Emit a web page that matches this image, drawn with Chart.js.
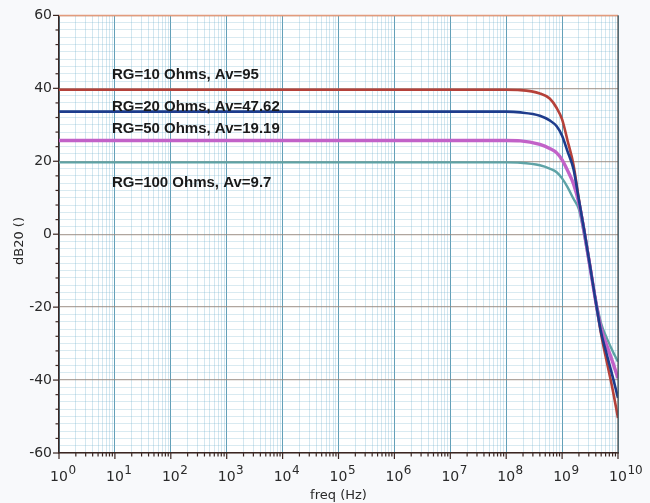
<!DOCTYPE html>
<html>
<head>
<meta charset="utf-8">
<script src="https://cdn.jsdelivr.net/npm/chart.js@4.4.1/dist/chart.umd.min.js"></script>
<style>
  html, body { margin: 0; padding: 0; background: #f8f9fb; }
  #wrap { width: 650px; height: 503px; }
</style>
</head>
<body>
<div id="wrap"><canvas id="myChart"></canvas></div>
<script>
// frequency points (Hz) and gain (dB)
var freqs = [1, 10, 100, 1e3, 1e4, 1e5, 1e6, 1e7, 1e8, 1.8e8, 4e8, 6e8, 8e8, 1e9, 1.25e9, 1.6e9, 2e9, 2.5e9, 3.2e9, 4e9, 5e9, 6.3e9, 8e9, 1e10];

var rg10  = [39.6, 39.6, 39.6, 39.6, 39.6, 39.6, 39.6, 39.6, 39.6, 39.5, 38.6, 37.2, 34.6, 31.5, 25.7, 19, 9.5, 1, -9, -18.5, -27.5, -35, -42.5, -50.4];
var rg20  = [33.6, 33.6, 33.6, 33.6, 33.6, 33.6, 33.6, 33.6, 33.6, 33.4, 32.5, 31.2, 29.6, 27, 22.7, 17.8, 9.3, 0.8, -9.2, -18.5, -27, -33, -39, -44.9];
var rg50  = [25.7, 25.7, 25.7, 25.7, 25.7, 25.7, 25.7, 25.7, 25.7, 25.6, 24.6, 23.5, 22.3, 20.4, 17.5, 13.8, 8.5, 0.4, -9.5, -18.5, -26, -30.5, -35, -39.5];
var rg100 = [19.7, 19.7, 19.7, 19.7, 19.7, 19.7, 19.7, 19.7, 19.7, 19.6, 18.9, 18, 17, 15.3, 12.9, 9.7, 6.8, -0.5, -10, -18, -24.5, -28.5, -32, -35];

var curveLabels = ['RG=10 Ohms, Av=95', 'RG=20 Ohms, Av=47.62', 'RG=50 Ohms, Av=19.19', 'RG=100 Ohms, Av=9.7'];
var yTicks = [-60, -40, -20, 0, 20, 40, 60];
var decades = [0, 1, 2, 3, 4, 5, 6, 7, 8, 9, 10];

let pts = (vals) => freqs.map((f, i) => ({ x: f, y: vals[i] }));

Chart.defaults.font.family = "'DejaVu Sans', sans-serif";

var isMajor = (v) => Math.abs(Math.log10(v) - Math.round(Math.log10(v))) < 1e-9;

var decor = {
  id: 'decor',
  beforeDraw(chart) {
    var a = chart.chartArea, c = chart.ctx;
    c.save();
    c.fillStyle = '#ffffff';
    c.fillRect(a.left, a.top, a.right - a.left, a.bottom - a.top);
    c.restore();
  },
  afterDatasetsDraw(chart) {
    var c = chart.ctx, xs = chart.scales.x, ys = chart.scales.y;
    // curve annotations
    var at = [43.6, 34.8, 29, 14.2];
    c.save();
    c.font = "bold 15px 'Liberation Sans', sans-serif";
    c.fillStyle = '#1a1a1a';
    c.textBaseline = 'middle';
    curveLabels.forEach((t, i) => {
      c.fillText(t, xs.getPixelForValue(10) - 3, ys.getPixelForValue(at[i]));
    });
    c.restore();
  },
  afterDraw(chart) {
    var c = chart.ctx, a = chart.chartArea, xs = chart.scales.x, ys = chart.scales.y;
    c.save();
    // top + right frame
    c.strokeStyle = '#e39b7c';
    c.lineWidth = 1.5;
    c.beginPath(); c.moveTo(a.left, a.top); c.lineTo(a.right, a.top); c.stroke();
    c.strokeStyle = '#4a4a4a';
    c.lineWidth = 1.2;
    c.beginPath(); c.moveTo(a.right, a.top); c.lineTo(a.right, a.bottom); c.stroke();

    // tick marks
    c.strokeStyle = '#3a2622';
    c.lineWidth = 1.2;
    xs.ticks.forEach((t) => {
      var px = xs.getPixelForValue(t.value);
      var len = isMajor(t.value) ? 6 : 3.5;
      c.beginPath(); c.moveTo(px, a.bottom); c.lineTo(px, a.bottom + len); c.stroke();
    });
    ys.ticks.forEach((t) => {
      if (t.value % 4 !== 0) return;
      var py = ys.getPixelForValue(t.value);
      var len = t.value % 20 === 0 ? 6 : 3.5;
      c.beginPath(); c.moveTo(a.left, py); c.lineTo(a.left - len, py); c.stroke();
    });

    // x tick labels with exponents
    c.fillStyle = '#2a2a2a';
    c.textBaseline = 'alphabetic';
    decades.forEach((n) => {
      var px = xs.getPixelForValue(Math.pow(10, n));
      c.font = "14px 'DejaVu Sans', sans-serif";
      var w = c.measureText('10').width;
      c.textAlign = 'left';
      c.fillText('10', px - w / 2, a.bottom + 28);
      c.font = "12px 'DejaVu Sans', sans-serif";
      c.fillText(String(n), px + w / 2 + 0.5, a.bottom + 21);
    });

    // axis titles
    c.font = "13px 'DejaVu Sans', sans-serif";
    c.textAlign = 'center';
    c.textBaseline = 'middle';
    c.fillText('freq (Hz)', (a.left + a.right) / 2, a.bottom + 43);
    c.translate(20, 241);
    c.rotate(-Math.PI / 2);
    c.fillText('dB20 ()', 0, 0);
    c.restore();
  }
};

var ctx = document.getElementById('myChart');
var myChart = new Chart(ctx, {
  type: 'line',
  data: {
    datasets: [
      { label: curveLabels[0], data: pts(rg10), borderColor: '#b5413a', borderWidth: 2.6, order: 3 },
      { label: curveLabels[1], data: pts(rg20), borderColor: '#1d3c8c', borderWidth: 2.6, order: 1 },
      { label: curveLabels[2], data: pts(rg50), borderColor: '#c262c8', borderWidth: 3.4, order: 2 },
      { label: curveLabels[3], data: pts(rg100), borderColor: '#5ea3a6', borderWidth: 2.4, order: 4 }
    ]
  },
  options: {
    responsive: true,
    maintainAspectRatio: false,
    animation: false,
    layout: { padding: { top: 15, right: 32, left: 0, bottom: 0 } },
    elements: {
      point: { radius: 0 },
      line: { fill: false, cubicInterpolationMode: 'monotone' }
    },
    plugins: { legend: { display: false }, tooltip: { enabled: false } },
    scales: {
      x: {
        type: 'logarithmic',
        min: 1,
        max: 1e10,
        afterBuildTicks: (scale) => {
          var t = [];
          for (var n = 0; n < 10; n++) {
            for (var m = 1; m < 10; m++) t.push({ value: m * Math.pow(10, n) });
          }
          t.push({ value: 1e10 });
          scale.ticks = t;
        },
        afterFit: (scale) => { scale.height = 50; },
        ticks: { autoSkip: false, maxRotation: 0, callback: () => '' },
        grid: {
          drawTicks: false,
          color: (c) => isMajor(c.tick.value) ? 'rgba(60,135,165,0.8)' : 'rgba(110,175,205,0.3)',
          lineWidth: 1
        },
        border: { color: '#3a2622', width: 1.5 }
      },
      y: {
        min: -60,
        max: 60,
        afterFit: (scale) => { scale.width = 59; },
        ticks: {
          stepSize: 2,
          maxTicksLimit: 100,
          autoSkip: false,
          padding: 7,
          color: '#2a2a2a',
          font: { size: 14 },
          callback: (v) => yTicks.indexOf(v) >= 0 ? String(v) : ''
        },
        grid: {
          drawTicks: false,
          color: (c) => c.tick.value % 20 === 0 ? 'rgba(150,135,125,0.75)' : 'rgba(120,180,205,0.28)',
          lineWidth: (c) => c.tick.value % 20 === 0 ? 1.3 : 1
        },
        border: { color: '#3a2622', width: 1.5 }
      }
    }
  },
  plugins: [decor]
});
</script>
</body>
</html>
